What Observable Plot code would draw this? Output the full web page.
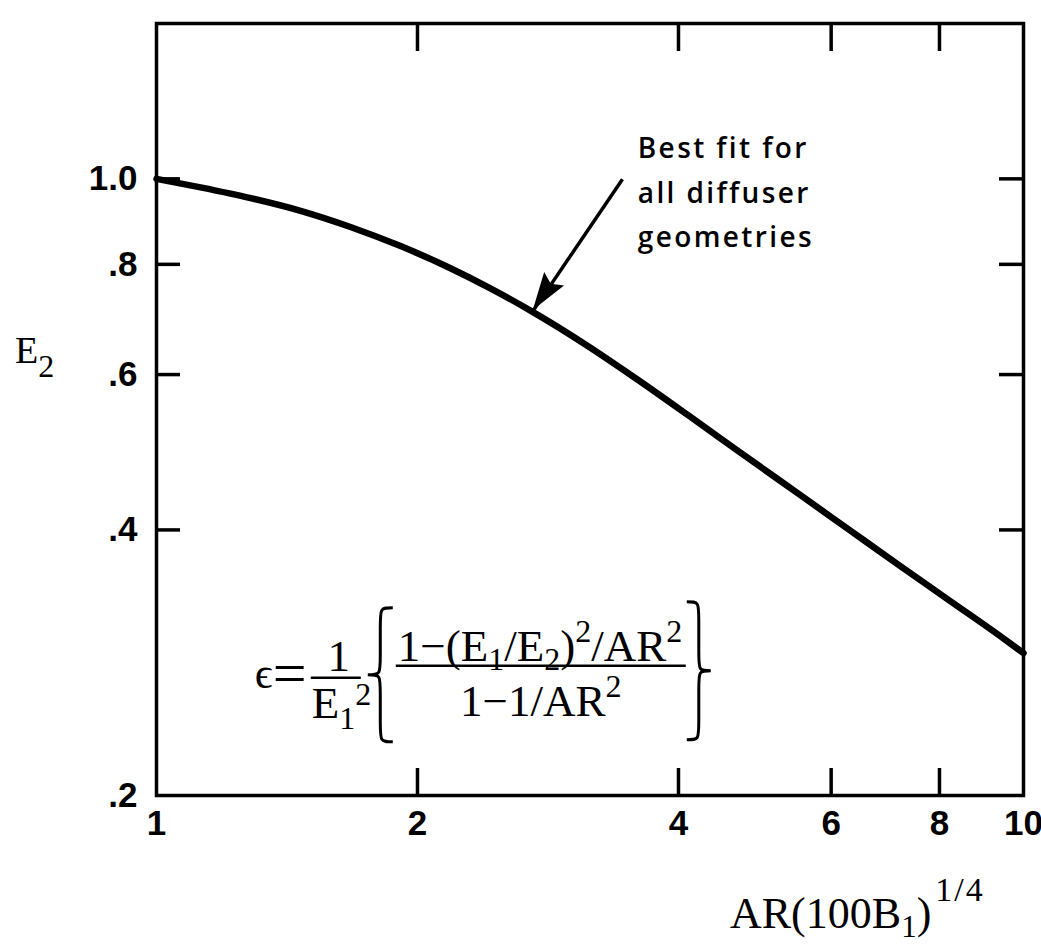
<!DOCTYPE html>
<html>
<head>
<meta charset="utf-8">
<script src="https://cdn.jsdelivr.net/npm/d3@7"></script>
<script src="https://cdn.jsdelivr.net/npm/@observablehq/plot@0.6"></script>
<style>
  body { margin: 0; background: #fff; }
</style>
</head>
<body>
<div id="chart"></div>
<script>
// Best-fit curve of E2 against AR(100B1)^(1/4), on log–log axes
const arValues = [1, 1.124, 1.284, 1.466, 1.674, 1.912, 2.183, 2.43, 2.70, 3.14, 3.59, 4.10, 4.68, 5.53, 6.32, 7.21, 8.24, 9.41, 10];
const e2Values = [1.0, 0.978, 0.951, 0.920, 0.882, 0.839, 0.792, 0.751, 0.709, 0.647, 0.592, 0.540, 0.492, 0.438, 0.399, 0.364, 0.332, 0.303, 0.290];

// Axis ticks and their labels
const xTickValues = [1, 2, 4, 6, 8, 10];
const xTickLabels = ["1", "2", "4", "6", "8", "10"];
const xInnerTicks = [2, 4, 6, 8];
const yTickValues = [0.2, 0.4, 0.6, 0.8, 1.0];
const yTickLabels = [".2", ".4", ".6", ".8", "1.0"];
const yInnerTicks = [0.4, 0.6, 0.8, 1.0];

// Annotation: note text, its arrow, and the formula anchor (data coordinates)
const noteLines = ["Best fit for", "all diffuser", "geometries"];
const notePosition = [3.59, 1.148];
const arrowFrom = [3.447, 0.999];
const arrowTo = [2.72, 0.709];
const formulaPosition = [1.30, 0.273];

const curve = arValues.map((x, i) => ({x, y: e2Values[i]}));
const xLabelOf = (d) => xTickLabels[xTickValues.indexOf(d)];
const yLabelOf = (d) => yTickLabels[yTickValues.findIndex((v) => Math.abs(v - d) < 1e-9)];

const INK = "#000";
const plot = Plot.plot({
  width: 1041,
  height: 944,
  marginLeft: 156,
  marginRight: 18,
  marginTop: 23,
  marginBottom: 149,
  style: {fontFamily: "'Liberation Sans', Arial, sans-serif", background: "#fff", color: INK, overflow: "visible"},
  x: {type: "log", domain: [1, 10]},
  y: {type: "log", domain: [0.2, 1.5]},
  marks: [
    // inward ticks on all four sides
    Plot.axisX(xInnerTicks, {anchor: "bottom", tickSize: -27, strokeWidth: 3.5, tickFormat: () => "", label: null}),
    Plot.axisX(xInnerTicks, {anchor: "top", tickSize: -27, strokeWidth: 3.5, tickFormat: () => "", label: null}),
    Plot.axisY(yInnerTicks, {anchor: "left", tickSize: -24, strokeWidth: 3.5, tickFormat: () => "", label: null}),
    Plot.axisY(yInnerTicks, {anchor: "right", tickSize: -25, strokeWidth: 3.5, tickFormat: () => "", label: null}),
    // tick labels
    Plot.axisX(xTickValues, {anchor: "bottom", tickSize: 0, tickPadding: 15, tickFormat: xLabelOf,
      fontSize: 35, fontWeight: "bold", label: null}),
    Plot.axisY(yTickValues, {anchor: "left", tickSize: 0, tickPadding: 19, tickFormat: yLabelOf,
      fontSize: 35, fontWeight: "bold", label: null}),
    Plot.frame({stroke: INK, strokeWidth: 3.5}),
    // best-fit curve
    Plot.line(curve, {x: "x", y: "y", curve: "monotone-x", stroke: INK, strokeWidth: 6.5}),
    // note and arrow shaft
    Plot.link([{x1: arrowFrom[0], y1: arrowFrom[1], x2: arrowTo[0], y2: arrowTo[1]}],
      {x1: "x1", y1: "y1", x2: "x2", y2: "y2", stroke: INK, strokeWidth: 3.5}),
    Plot.text([{x: notePosition[0], y: notePosition[1], text: noteLines.join("\n")}],
      {x: "x", y: "y", text: "text", textAnchor: "start", lineAnchor: "top", lineHeight: 1.6,
       fontSize: 28, fontWeight: 600, fontFamily: "'Open Sans', 'Noto Sans', sans-serif", fill: INK})
  ]
});

document.getElementById("chart").appendChild(plot);

const svg = d3.select(plot);
const sx = plot.scale("x"), sy = plot.scale("y");
svg.selectAll('g[aria-label="text"] text').style("letter-spacing", "2.4px");

// filled arrowhead at the curve end of the note arrow
{
  const tx = sx.apply(arrowTo[0]), ty = sy.apply(arrowTo[1]);
  const fx = sx.apply(arrowFrom[0]), fy = sy.apply(arrowFrom[1]);
  const a = Math.atan2(ty - fy, tx - fx);
  const ux = Math.cos(a), uy = Math.sin(a), nx = -uy, ny = ux;
  const L = 38, half = 12, notch = 6;
  const bx = tx - L * ux, by = ty - L * uy;
  const pts = [
    [tx, ty],
    [bx + half * nx, by + half * ny],
    [bx + notch * ux, by + notch * uy],
    [bx - half * nx, by - half * ny]
  ];
  svg.append("path")
    .attr("d", "M" + pts.map((p) => p.join(",")).join("L") + "Z")
    .attr("fill", INK);
}

const SERIF = "'Liberation Serif', 'Times New Roman', 'DejaVu Serif', serif";

// axis titles
{
  const t = svg.append("text").attr("x", 15).attr("y", 363).attr("text-anchor", "start")
    .attr("font-family", SERIF).attr("font-size", 38).attr("fill", INK);
  t.append("tspan").text("E");
  t.append("tspan").attr("font-size", 32).attr("dy", 14).text("2");

  const u = svg.append("text").attr("x", 730).attr("y", 928).attr("text-anchor", "start")
    .attr("font-family", SERIF).attr("font-size", 44).attr("fill", INK);
  u.append("tspan").text("AR(100B");
  u.append("tspan").attr("font-size", 31).attr("dy", 9).text("1");
  u.append("tspan").attr("dy", -9).text(")");
  u.append("tspan").attr("font-size", 34).attr("dy", -27).attr("dx", 4)
    .style("letter-spacing", "2px").text("1/4");
}

// formula for the efficiency
function bracePath(xTip, xEnd, yTop, yBot) {
  const xm = (xTip + xEnd) / 2, ym = (yTop + yBot) / 2;
  const r = Math.abs(xEnd - xm);
  return `M${xEnd},${yTop} C${xm},${yTop} ${xm},${yTop} ${xm},${yTop + r * 1.6}` +
    ` L${xm},${ym - r * 1.6} C${xm},${ym} ${xm},${ym} ${xTip},${ym}` +
    ` C${xm},${ym} ${xm},${ym} ${xm},${ym + r * 1.6}` +
    ` L${xm},${yBot - r * 1.6} C${xm},${yBot} ${xm},${yBot} ${xEnd},${yBot}`;
}
{
  const g = svg.append("g")
    .attr("transform", `translate(${sx.apply(formulaPosition[0])},${sy.apply(formulaPosition[1])})`)
    .attr("font-family", SERIF).attr("fill", INK).attr("text-anchor", "start");
  const txt = (x, y, size, s, anchor = "start") =>
    g.append("text").attr("x", x).attr("y", y).attr("font-size", size).attr("text-anchor", anchor).text(s);

  txt(0, 12, 44, "\u03F5");
  txt(18, 17, 60, "=");

  // 1 / E1^2
  g.append("line").attr("x1", 56).attr("x2", 106).attr("y1", 2).attr("y2", 2).attr("stroke", INK).attr("stroke-width", 2.5);
  txt(84, -5, 45, "1", "middle");
  const d = g.append("text").attr("x", 57).attr("y", 42).attr("font-size", 45).attr("text-anchor", "start");
  d.append("tspan").text("E");
  d.append("tspan").attr("font-size", 32).attr("dy", 11).text("1");
  d.append("tspan").attr("font-size", 32).attr("dy", -24).text("2");

  // braces
  g.append("path").attr("d", bracePath(113, 138, -68, 66)).attr("fill", "none").attr("stroke", INK).attr("stroke-width", 3);
  g.append("path").attr("d", bracePath(456, 432, -74, 64)).attr("fill", "none").attr("stroke", INK).attr("stroke-width", 3);

  // numerator
  const n = g.append("text").attr("x", 143).attr("y", -15).attr("font-size", 45).attr("text-anchor", "start");
  n.append("tspan").text("1\u2212(E");
  n.append("tspan").attr("font-size", 32).attr("dy", 9).text("1");
  n.append("tspan").attr("dy", -9).text("/E");
  n.append("tspan").attr("font-size", 32).attr("dy", 9).text("2");
  n.append("tspan").attr("dy", -9).text(")");
  n.append("tspan").attr("font-size", 32).attr("dy", -19).text("2");
  n.append("tspan").attr("dy", 19).text("/AR");
  n.append("tspan").attr("font-size", 32).attr("dy", -19).text("2");

  // main fraction bar
  g.append("line").attr("x1", 141).attr("x2", 431).attr("y1", -10).attr("y2", -10).attr("stroke", INK).attr("stroke-width", 2.5);

  // denominator
  const m = g.append("text").attr("x", 286).attr("y", 40).attr("font-size", 45).attr("text-anchor", "middle");
  m.append("tspan").text("1\u22121/AR");
  m.append("tspan").attr("font-size", 32).attr("dy", -19).text("2");
}
</script>
</body>
</html>
